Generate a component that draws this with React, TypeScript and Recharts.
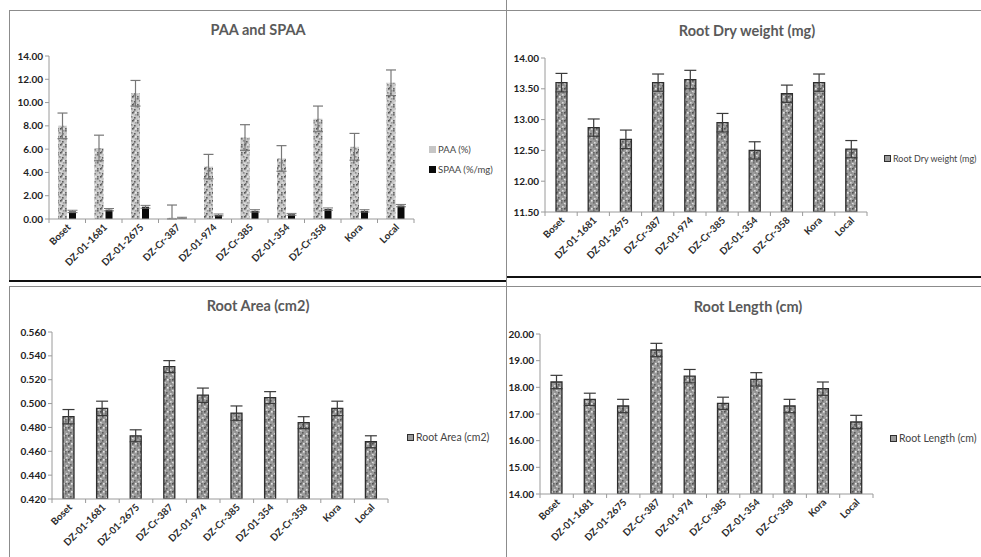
import { BarChart, Bar, XAxis, YAxis, ErrorBar } from 'recharts';

const categories = ['Boset', 'DZ-01-1681', 'DZ-01-2675', 'DZ-Cr-387', 'DZ-01-974', 'DZ-Cr-385', 'DZ-01-354', 'DZ-Cr-358', 'Kora', 'Local'];

const paa = [8.0, 6.1, 10.8, 0.1, 4.5, 7.0, 5.2, 8.6, 6.2, 11.7];
const paaErr = [1.1, 1.1, 1.1, 1.1, 1.05, 1.1, 1.1, 1.1, 1.15, 1.1];
const spaa = [0.65, 0.8, 1.05, 0.1, 0.35, 0.7, 0.4, 0.85, 0.7, 1.15];
const spaaErr = [0.1, 0.1, 0.12, 0.05, 0.08, 0.1, 0.08, 0.1, 0.1, 0.1];

const rootDry = [13.6, 12.87, 12.68, 13.6, 13.65, 12.95, 12.5, 13.42, 13.6, 12.52];
const rootDryErr = [0.15, 0.14, 0.15, 0.14, 0.15, 0.15, 0.14, 0.14, 0.14, 0.14];

const rootArea = [0.489, 0.496, 0.473, 0.531, 0.507, 0.492, 0.505, 0.484, 0.496, 0.468];
const rootAreaErr = [0.006, 0.006, 0.005, 0.005, 0.006, 0.006, 0.005, 0.005, 0.006, 0.005];

const rootLen = [18.2, 17.55, 17.3, 19.4, 18.42, 17.4, 18.3, 17.3, 17.95, 16.7];
const rootLenErr = [0.25, 0.23, 0.25, 0.25, 0.25, 0.23, 0.25, 0.25, 0.25, 0.25];

const paaTicks = [0, 2, 4, 6, 8, 10, 12, 14];
const dryTicks = [11.5, 12, 12.5, 13, 13.5, 14];
const areaTicks = [0.42, 0.44, 0.46, 0.48, 0.5, 0.52, 0.54, 0.56];
const lenTicks = [14, 15, 16, 17, 18, 19, 20];

const font = 'Lato, "Open Sans", sans-serif';
const axisColor = '#9a9a9a';

// error bars are clipped at the axis floor, like the original
const clipErr = (v: number, e: number, floor: number) => [Math.min(e, v - floor), e];

const paaData = categories.map((name, i) => ({
  name,
  paa: paa[i], paaErr: clipErr(paa[i], paaErr[i], 0),
  spaa: spaa[i], spaaErr: clipErr(spaa[i], spaaErr[i], 0),
}));
const dryData = categories.map((name, i) => ({ name, v: rootDry[i], e: rootDryErr[i] }));
const areaData = categories.map((name, i) => ({ name, v: rootArea[i], e: rootAreaErr[i] }));
const lenData = categories.map((name, i) => ({ name, v: rootLen[i], e: rootLenErr[i] }));

// speckle dots for the textured fills
const speckles = [
  [0, 0, '#6e6e6e'], [3, 1, '#e0e0e0'], [5, 3, '#5a5a5a'], [1, 4, '#d8d8d8'],
  [4, 5, '#7a7a7a'], [2, 2, '#8a8a8a'], [6, 6, '#e8e8e8'], [0, 6, '#666'],
  [6, 0, '#9a9a9a'], [3, 6, '#505050'],
];

function Pattern({ id, base }: { id: string; base: string }) {
  return (
    <pattern id={id} width="8" height="8" patternUnits="userSpaceOnUse">
      <rect width="8" height="8" fill={base} />
      {speckles.map(([x, y, c], i) => (
        <rect key={i} x={x as number} y={y as number} width="1.6" height="1.6" fill={c as string} />
      ))}
    </pattern>
  );
}

function XTick(props: any) {
  const { x, y, payload, band, index } = props;
  return (
    <g>
      <line x1={x + band / 2} y1={y - 6} x2={x + band / 2} y2={y - 2} stroke={axisColor} />
      {index === 0 && <line x1={x - band / 2} y1={y - 6} x2={x - band / 2} y2={y - 2} stroke={axisColor} />}
      <text x={x + 4} y={y + 3} textAnchor="end" transform={`rotate(-45 ${x + 4} ${y + 3})`}
        fontSize={9.8} fontWeight={700} fill="#2a2a2a" fontFamily={font}>
        {payload.value}
      </text>
    </g>
  );
}

function Swatch({ fill, stroke }: { fill: string; stroke: string }) {
  return (
    <svg width="7" height="7" style={{ marginRight: 2 }}>
      <rect x="0.5" y="0.5" width="6" height="6" fill={fill} stroke={stroke} />
    </svg>
  );
}

function Title({ text, cx, top }: { text: string; cx: number; top: number }) {
  return (
    <div style={{ position: 'absolute', left: cx - 150, width: 300, top, textAlign: 'center', fontFamily: font, fontWeight: 700, fontSize: 14.5, color: '#5a5a5a' }}>
      {text}
    </div>
  );
}

function LegendItem({ left, top, label, fill, stroke, size }: any) {
  return (
    <div style={{ position: 'absolute', left, top, display: 'flex', alignItems: 'center', fontFamily: font, fontSize: size, color: '#444', whiteSpace: 'nowrap' }}>
      <Swatch fill={fill} stroke={stroke} />
      {label}
    </div>
  );
}

const yTick = { fontSize: 10, fontWeight: 700, fill: '#222', fontFamily: font };

function RootPanel({ left, top, width, height, margin, data, ticks, digits, pid, bandW }: any) {
  return (
    <div style={{ position: 'absolute', left, top }}>
      <BarChart width={width} height={height} data={data} margin={margin} barCategoryGap={0}>
        <defs>
          <Pattern id={pid} base="#9a9a9a" />
        </defs>
        <XAxis dataKey="name" interval={0} axisLine={{ stroke: axisColor }} tickLine={false} tickSize={6} tickMargin={0}
          tick={<XTick band={bandW} />} height={58} />
        <YAxis domain={[ticks[0], ticks[ticks.length - 1]]} ticks={ticks} width={40} interval={0} allowDataOverflow
          axisLine={{ stroke: axisColor }} tickLine={{ stroke: axisColor }} tickSize={4} tickMargin={2}
          tickFormatter={(v: number) => v.toFixed(digits)} tick={yTick} />
        <Bar dataKey="v" barSize={11} fill={`url(#${pid})`} stroke="#2e2e2e" strokeWidth={1.3} isAnimationActive={false}>
          <ErrorBar dataKey="e" width={6} stroke="#3a3a3a" strokeWidth={1.2} direction="y" />
        </Bar>
      </BarChart>
    </div>
  );
}

export default function App() {
  return (
    <div style={{ position: 'absolute', left: 0, top: 0, width: 981, height: 557, background: '#fff', overflow: 'hidden' }}>
      {/* frames */}
      <div style={{ position: 'absolute', left: 9, top: 10, width: 497, height: 271, borderLeft: '1px solid #8c8c8c', borderTop: '1px solid #8c8c8c', boxSizing: 'border-box' }} />
      <div style={{ position: 'absolute', left: 9, top: 280, width: 497, height: 2, background: '#111' }} />
      <div style={{ position: 'absolute', left: 506, top: 10, width: 475, height: 1, background: '#8c8c8c' }} />
      <div style={{ position: 'absolute', left: 506, top: 276, width: 475, height: 2, background: '#111' }} />
      <div style={{ position: 'absolute', left: 506, top: 0, width: 1, height: 557, background: '#8c8c8c' }} />
      <div style={{ position: 'absolute', left: 9, top: 286, width: 972, height: 1, background: '#8c8c8c' }} />
      <div style={{ position: 'absolute', left: 9, top: 286, width: 1, height: 271, background: '#8c8c8c' }} />

      {/* PAA and SPAA */}
      <Title text="PAA and SPAA" cx={258} top={21} />
      <div style={{ position: 'absolute', left: 9, top: 10 }}>
        <BarChart width={490} height={270} data={paaData} margin={{ top: 46, right: 85, left: 0, bottom: 3 }} barCategoryGap={0} barGap={2}>
          <defs>
            <Pattern id="pPaa" base="#c6c6c6" />
          </defs>
          <XAxis dataKey="name" interval={0} axisLine={{ stroke: axisColor }} tickLine={false} tickSize={6} tickMargin={0}
            tick={<XTick band={36.5} />} height={58} />
          <YAxis domain={[0, 14]} ticks={paaTicks} width={40} interval={0} allowDataOverflow
            axisLine={{ stroke: axisColor }} tickLine={{ stroke: axisColor }} tickSize={4} tickMargin={2}
            tickFormatter={(v: number) => v.toFixed(2)} tick={yTick} />
          <Bar dataKey="paa" barSize={9} fill="url(#pPaa)" isAnimationActive={false}>
            <ErrorBar dataKey="paaErr" width={5} stroke="#777" strokeWidth={1.2} direction="y" />
          </Bar>
          <Bar dataKey="spaa" barSize={7} fill="#0a0a0a" isAnimationActive={false}>
            <ErrorBar dataKey="spaaErr" width={5} stroke="#777" strokeWidth={1} direction="y" />
          </Bar>
        </BarChart>
      </div>
      <LegendItem left={429} top={144} label="PAA (%)" fill="#c6c6c6" stroke="#c6c6c6" size={9.5} />
      <LegendItem left={429} top={164} label="SPAA (%/mg)" fill="#0a0a0a" stroke="#0a0a0a" size={9.5} />

      {/* Root Dry weight */}
      <Title text="Root Dry weight (mg)" cx={747} top={22} />
      <RootPanel left={505} top={10} width={476} height={266} margin={{ top: 48, right: 114, left: 0, bottom: 6 }}
        data={dryData} ticks={dryTicks} digits={2} pid="pDry" bandW={32.2} />
      <LegendItem left={884} top={153} label="Root Dry weight (mg)" fill="#9a9a9a" stroke="#2e2e2e" size={9} />

      {/* Root Area */}
      <Title text="Root Area (cm2)" cx={258} top={297} />
      <RootPanel left={9} top={285} width={490} height={272} margin={{ top: 47, right: 111, left: 3, bottom: 0 }}
        data={areaData} ticks={areaTicks} digits={3} pid="pArea" bandW={33.6} />
      <LegendItem left={407} top={431} label="Root Area (cm2)" fill="#9a9a9a" stroke="#2e2e2e" size={10.5} />

      {/* Root Length */}
      <Title text="Root Length (cm)" cx={748} top={298} />
      <RootPanel left={505} top={285} width={476} height={272} margin={{ top: 49, right: 108, left: -5, bottom: 5 }}
        data={lenData} ticks={lenTicks} digits={2} pid="pLen" bandW={33.3} />
      <LegendItem left={890} top={432} label="Root Length (cm)" fill="#9a9a9a" stroke="#2e2e2e" size={10.5} />
    </div>
  );
}
